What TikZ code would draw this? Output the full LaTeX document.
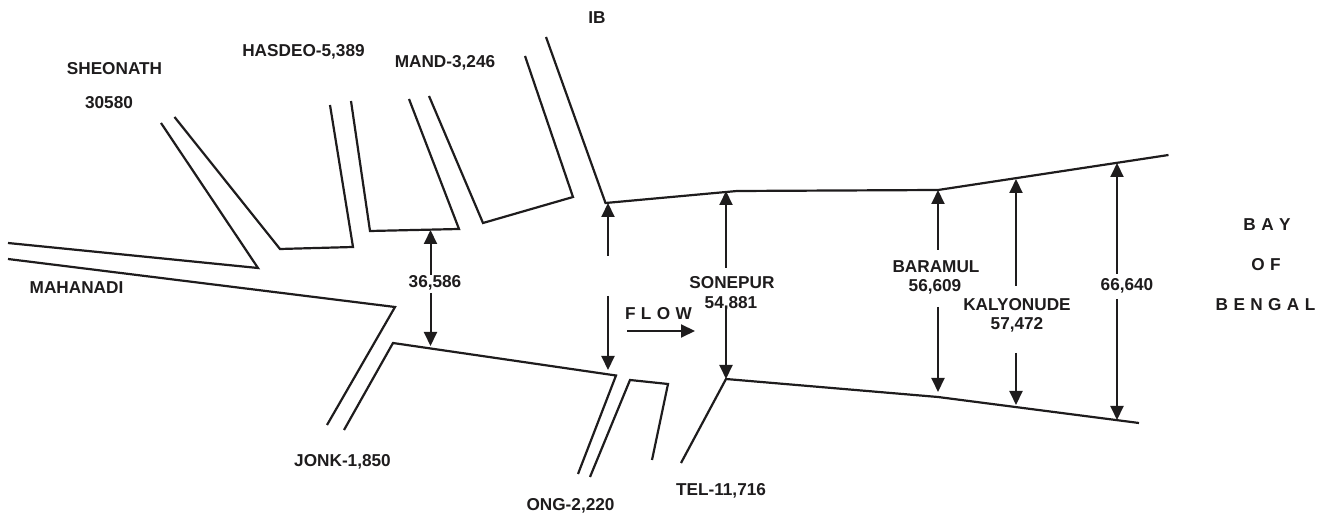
\documentclass[tikz,border=0pt]{standalone}
\usepackage{fontspec}
\setmainfont{Liberation Sans}
\newfontfamily\labfont{Liberation Sans}
\newfontfamily\widefont[LetterSpace=3.5]{Liberation Sans}
\usetikzlibrary{arrows.meta}
\definecolor{ink}{HTML}{1E1C1D}
\tikzset{
  river/.style={draw=ink,line width=2.2pt,line join=miter},
  dim/.style={draw=ink,line width=2pt,-{Triangle[length=14pt,width=13pt]}},
  lab/.style={text=ink,inner sep=0pt,font=\fontsize{17.2}{20}\selectfont\labfont\bfseries},
  widelab/.style={text=ink,inner sep=0pt,font=\fontsize{17.2}{20}\selectfont\widefont\bfseries}
}
\begin{document}
\begin{tikzpicture}[x=1pt,y=-1pt]
\useasboundingbox (0,0) rectangle (1334,518);
% rivers
\draw[river] (8,243) -- (258,268) -- (161,123);
\draw[river] (174.5,117) -- (280,249) -- (353,247) -- (330,105);
\draw[river] (351,101) -- (370,231) -- (459,229) -- (409,99);
\draw[river] (429,96) -- (483,223) -- (573,197) -- (525,56);
\draw[river] (546,37) -- (605.5,203) -- (737,191) -- (938,190) -- (1168.5,155);
\draw[river] (8,259) -- (395,307) -- (327,425);
\draw[river] (344,430) -- (393,343) -- (616,375.5) -- (578,474);
\draw[river] (590,477) -- (630,380) -- (668,384) -- (652,460);
\draw[river] (681,463) -- (726,379) -- (938,397) -- (1139,423);
% labels
\node[lab] (ib) at (597,18) {IB};
\node[lab] (hasdeo) at (303.5,52) {HASDEO-5,389};
\node[lab] (mand) at (445,63) {MAND-3,246};
\node[lab] (sheonath) at (114.5,69) {SHEONATH};
\node[lab] (sheonum) at (109,103) {30580};
\node[lab] (mahanadi) at (76.5,288) {MAHANADI};
\node[lab] (n36) at (435,283) {36,586};
\node[lab] (jonk) at (342.5,462) {JONK-1,850};
\node[lab] (ong) at (570.5,505.5) {ONG-2,220};
\node[lab] (tel) at (721,491) {TEL-11,716};
\node[widelab] (flow) at (658.5,314) {F L O W};
\node[lab] (sonepur) at (732,283) {SONEPUR};
\node[lab] (n54) at (731,304) {54,881};
\node[lab] (baramul) at (936,267) {BARAMUL};
\node[lab] (n56) at (935,287) {56,609};
\node[lab] (kalyo) at (1017,305) {KALYONUDE};
\node[lab] (n57) at (1017,325) {57,472};
\node[lab] (n66) at (1127,286) {66,640};
\node[widelab] (bay) at (1267,225) {B A Y};
\node[widelab] (of) at (1266,265) {O F};
\node[widelab] (bengal) at (1265.5,305) {B E N G A L};
% arrow ends
\coordinate (a1t) at (430.5,230); \coordinate (a1u) at (430.5,275);
\coordinate (a1l) at (430.5,293); \coordinate (a1b) at (430.5,346);
\coordinate (a2t) at (608,203);   \coordinate (a2u) at (608,256);
\coordinate (a2l) at (608,296);   \coordinate (a2b) at (608,370);
\coordinate (a3t) at (726,191);   \coordinate (a3u) at (726,268);
\coordinate (a3l) at (726,308);   \coordinate (a3b) at (726,379);
\coordinate (a4t) at (938,190);   \coordinate (a4u) at (938,250);
\coordinate (a4l) at (938,307);   \coordinate (a4b) at (938,392);
\coordinate (a5t) at (1016,179);  \coordinate (a5u) at (1016,286);
\coordinate (a5l) at (1016,353);  \coordinate (a5b) at (1016,405);
\coordinate (a6t) at (1117,163);  \coordinate (a6u) at (1117,274);
\coordinate (a6l) at (1117,299);  \coordinate (a6b) at (1117,420);
\coordinate (fa) at (627,331);    \coordinate (fb) at (695,331);
\foreach \i in {1,...,6} {
  \draw[dim] (a\i u) -- (a\i t);
  \draw[dim] (a\i l) -- (a\i b);
}
\draw[dim] (fa) -- (fb);
\end{tikzpicture}
\end{document}
